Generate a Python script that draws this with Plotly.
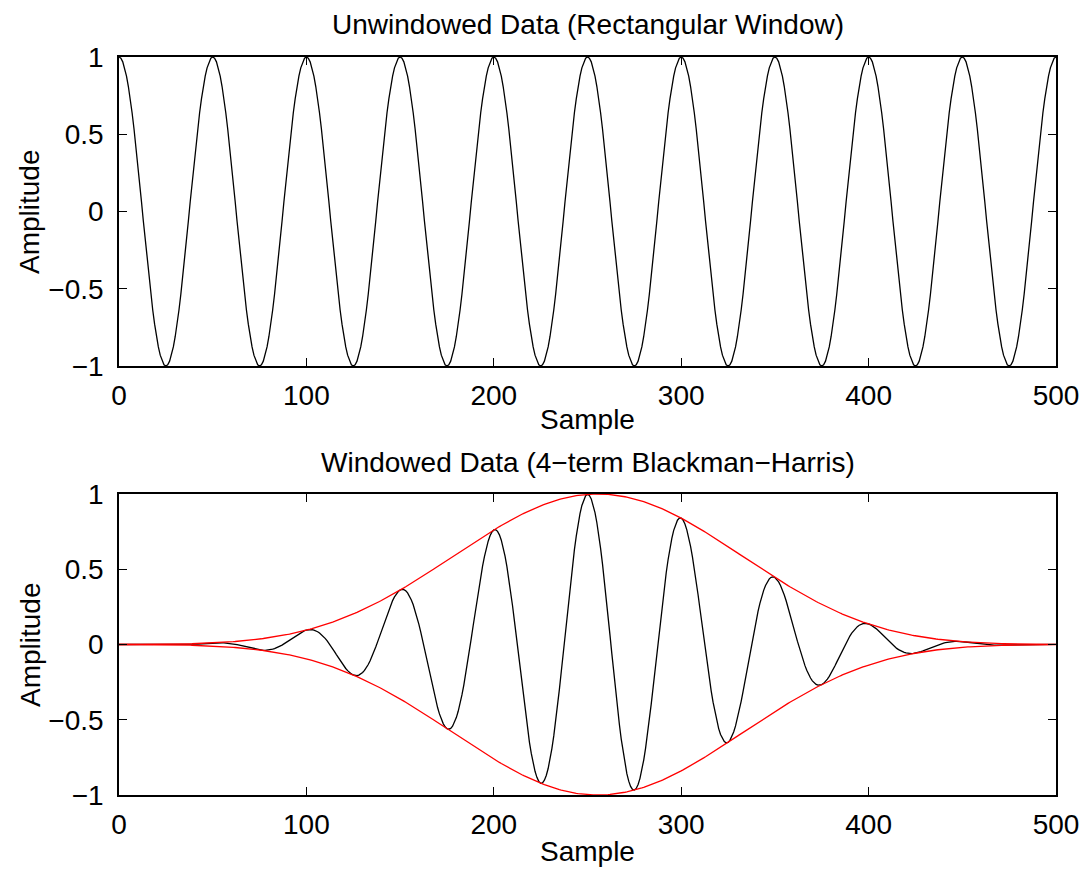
import numpy as np
import plotly.graph_objects as go

# Signal parameters
n_samples = 512            # window length (peak of window at ~255.5)
period = 50                # cosine peaks at 0, 50, 100, ..., 500
bh_coeffs = [0.35875, 0.48829, 0.14128, 0.01168]  # 4-term Blackman-Harris

x_ticks = [0, 100, 200, 300, 400, 500]
x_ticktext = ["0", "100", "200", "300", "400", "500"]
y_ticks = [-1, -0.5, 0, 0.5, 1]
y_ticktext = ["\u22121", "\u22120.5", "0", "0.5", "1"]

titles = ["Unwindowed Data (Rectangular Window)",
          "Windowed Data (4\u2212term Blackman\u2212Harris)"]
xlabel = "Sample"
ylabel = "Amplitude"

n = np.arange(n_samples)
signal = np.cos(2 * np.pi * n / period)
a0, a1, a2, a3 = bh_coeffs
k = 2 * np.pi * n / (n_samples - 1)
window = a0 - a1 * np.cos(k) + a2 * np.cos(2 * k) - a3 * np.cos(3 * k)
windowed = signal * window

W, H = 1083, 871
FONT = "Liberation Sans, Arial, Helvetica, sans-serif"
FS = 28

L, R, T, B = 119, 1056, 57, 795
PW = R - L
PH = B - T

fig = go.Figure()
line_black = dict(color="black", width=1.3)
line_red = dict(color="#ff0000", width=1.3)

fig.add_trace(go.Scatter(x=n, y=signal, mode="lines", line=line_black,
                         xaxis="x", yaxis="y", showlegend=False))
fig.add_trace(go.Scatter(x=n, y=windowed, mode="lines", line=line_black,
                         xaxis="x2", yaxis="y2", showlegend=False))
fig.add_trace(go.Scatter(x=n, y=window, mode="lines", line=line_red,
                         xaxis="x2", yaxis="y2", showlegend=False))
fig.add_trace(go.Scatter(x=n, y=-window, mode="lines", line=line_red,
                         xaxis="x2", yaxis="y2", showlegend=False))

ydom_top = [1 - (366 - T) / PH, 1.0]
ydom_bot = [0.0, (B - 494) / PH]

axis_common = dict(showline=True, linecolor="black", linewidth=1.5, mirror="ticks",
                   ticks="inside", ticklen=8, tickwidth=1.3, tickcolor="black",
                   showgrid=False, zeroline=False, automargin=False,
                   tickfont=dict(family=FONT, size=FS, color="black"))

fig.update_layout(
    width=W, height=H,
    margin=dict(l=L, r=W - R, t=T, b=H - B, autoexpand=False),
    paper_bgcolor="white", plot_bgcolor="white",
    font=dict(family=FONT, size=FS, color="black"),
    xaxis=dict(domain=[0, 1], anchor="y", range=[0, 500], tickvals=x_ticks,
               ticktext=x_ticktext, ticklabelstandoff=4, **axis_common),
    yaxis=dict(domain=ydom_top, anchor="x", range=[-1, 1], tickvals=y_ticks,
               ticktext=y_ticktext, ticklabelstandoff=8, **axis_common),
    xaxis2=dict(domain=[0, 1], anchor="y2", range=[0, 500], tickvals=x_ticks,
                ticktext=x_ticktext, ticklabelstandoff=4, **axis_common),
    yaxis2=dict(domain=ydom_bot, anchor="x2", range=[-1, 1], tickvals=y_ticks,
                ticktext=y_ticktext, ticklabelstandoff=8, **axis_common),
)

def ann(text, px, py, angle=0):
    fig.add_annotation(text=text, x=(px - L) / PW, y=(B - py) / PH,
                       xref="paper", yref="paper",
                       showarrow=False, textangle=angle, xanchor="center", yanchor="middle",
                       font=dict(family=FONT, size=FS, color="black"))

ann(titles[0], 588, 25)
ann(titles[1], 588, 462)
ann(xlabel, 587, 419)
ann(xlabel, 587, 851)
ann(ylabel, 30, 212, -90)
ann(ylabel, 30, 645, -90)

fig.write_html("out.html")
